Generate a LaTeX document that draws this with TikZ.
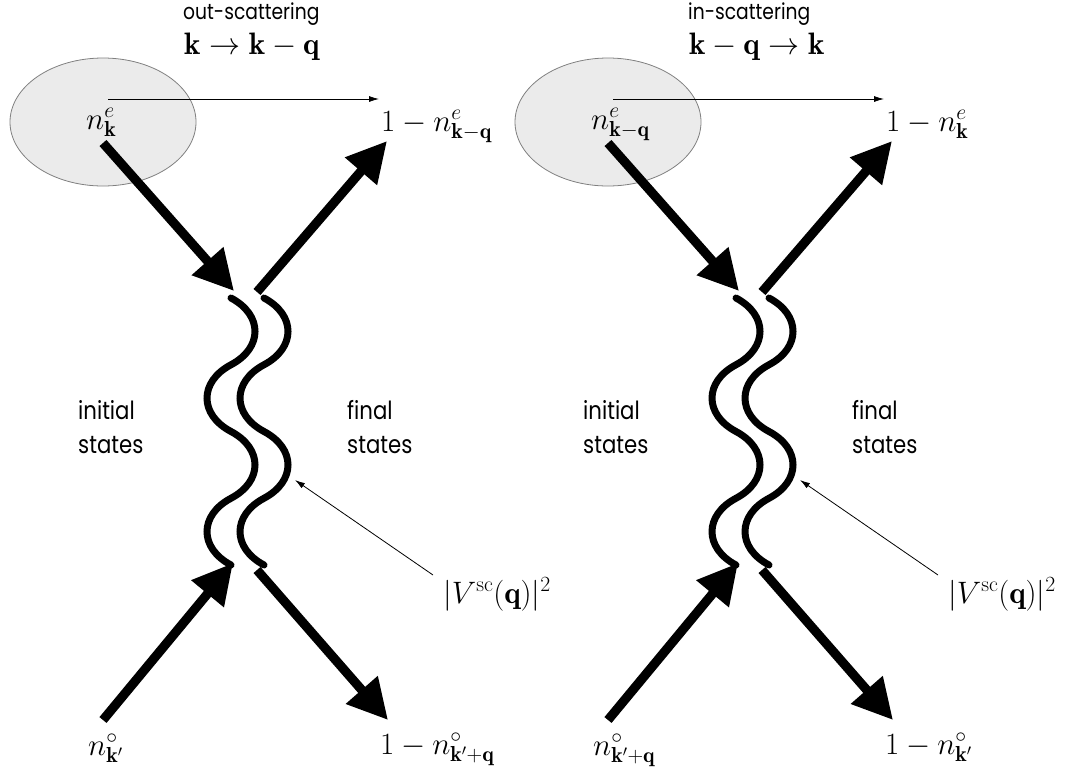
\RequirePackage{fix-cm}
\documentclass[tikz,border=0pt]{standalone}
\usepackage{fontspec}
\newfontfamily\gothic[FakeStretch=0.85]{Poppins}
\usetikzlibrary{arrows.meta,shapes.geometric}
\tikzset{
  lbl/.style={inner sep=0pt, font=\fontsize{31}{37}\selectfont},
  txt/.style={inner sep=0pt, font=\gothic\fontsize{25}{34}\selectfont, align=left},
  ttl/.style={inner sep=0pt, font=\gothic\fontsize{22}{28}\selectfont},
  bigarrow/.style={line width=9.2pt, -{Triangle[length=40pt,width=40pt]}},
  wave/.style={line width=7pt, line cap=round},
  thinarrow/.style={line width=0.8pt, -{Latex[length=10pt,width=6pt]}},
  blob/.style={ellipse, draw=black!50, fill=black!8, line width=0.8pt, minimum width=186pt, minimum height=128pt, inner sep=0pt}
}
\newcommand\drawpanel[7]{%
  % #1 prefix, #2 ellipse label, #3 top-right, #4 bottom-left, #5 bottom-right, #6 title, #7 title math
  \node[blob] (#1blob) at (103,122) {};
  \node[ttl, anchor=base west] (#1title) at (183,19) {#6};
  \node[lbl, anchor=base west] (#1tmath) at (184,54) {#7};
  \node[lbl, anchor=base west] (#1ne) at (86,129) {#2};
  \node[lbl, anchor=base west] (#1tr) at (381,131) {#3};
  \node[lbl, anchor=base west] (#1bl) at (88,755) {#4};
  \node[lbl, anchor=base west] (#1br) at (380,754) {#5};
  \node[lbl, anchor=base west] (#1V) at (443,603) {$|V^{\mathrm{sc}}(\mathbf q)|^2$};
  \node[txt, anchor=north west] (#1init) at (78,400) {initial\\states};
  \node[txt, anchor=north west] (#1fin) at (347,400) {final\\states};
  % coordinates
  \coordinate (#1hs) at (108,99);
  \coordinate (#1he) at (379,99);
  \coordinate (#1a1s) at (103,143);
  \coordinate (#1a1e) at (234,291);
  \coordinate (#1a2s) at (257,292);
  \coordinate (#1a2e) at (387,141);
  \coordinate (#1a3s) at (103,720);
  \coordinate (#1a3e) at (233,563);
  \coordinate (#1a4s) at (257,570);
  \coordinate (#1a4e) at (388,720);
  \coordinate (#1vs) at (433,575);
  \coordinate (#1ve) at (295,480);
  \coordinate (#1w1) at (231,298);
  \coordinate (#1w2) at (264,298);
  % connectors
  \draw[thinarrow] (#1hs) -- (#1he);
  \draw[bigarrow] (#1a1s) -- (#1a1e);
  \draw[bigarrow] (#1a2s) -- (#1a2e);
  \draw[bigarrow] (#1a3s) -- (#1a3e);
  \draw[bigarrow] (#1a4s) -- (#1a4e);
  \draw[thinarrow] (#1vs) -- (#1ve);
  % waves
  \draw[wave] (#1w1)
     .. controls +(32,17) and +(32,-17) .. ++(0,66.75)
     .. controls +(-32,17) and +(-32,-17) .. ++(0,66.75)
     .. controls +(32,17) and +(32,-17) .. ++(0,66.75)
     .. controls +(-32,17) and +(-32,-17) .. ++(0,66.75);
  \draw[wave] (#1w2)
     .. controls +(32,17) and +(32,-17) .. ++(0,66.75)
     .. controls +(-32,17) and +(-32,-17) .. ++(0,66.75)
     .. controls +(32,17) and +(32,-17) .. ++(0,66.75)
     .. controls +(-32,17) and +(-32,-17) .. ++(0,66.75);
}
\begin{document}
\begin{tikzpicture}[x=1pt,y=-1pt]
\useasboundingbox[fill=white] (0,0) rectangle (1083,772);
\begin{scope}
\drawpanel{L}{$n^e_{\mathbf k}$}{$1-n^e_{\mathbf k-\mathbf q}$}{$n^\circ_{\mathbf k'}$}{$1-n^\circ_{\mathbf k'+\mathbf q}$}{out-scattering}{$\mathbf k\to\mathbf k-\mathbf q$}
\end{scope}
\begin{scope}[xshift=505pt]
\drawpanel{R}{$n^e_{\mathbf k-\mathbf q}$}{$1-n^e_{\mathbf k}$}{$n^\circ_{\mathbf k'+\mathbf q}$}{$1-n^\circ_{\mathbf k'}$}{in-scattering}{$\mathbf k-\mathbf q\to\mathbf k$}
\end{scope}
\end{tikzpicture}
\end{document}
